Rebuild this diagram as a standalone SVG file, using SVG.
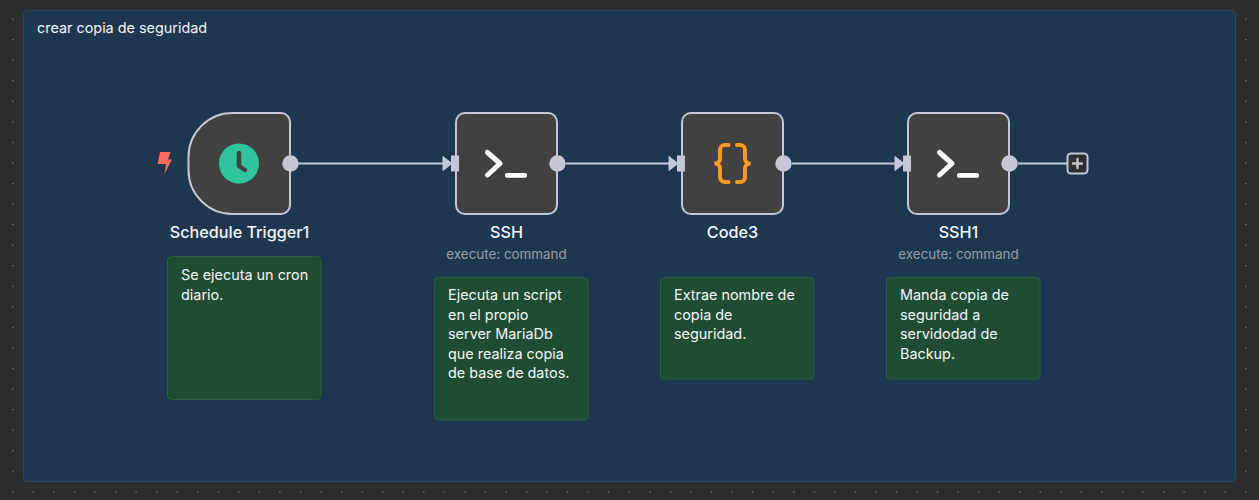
<svg xmlns="http://www.w3.org/2000/svg" width="1259" height="500" viewBox="0 0 1259 500">
<style>
text{font-family:Inter,"Liberation Sans",sans-serif}
.box{fill:#414141;stroke:#c4c8d6;stroke-width:2}
.name{font-size:16.200px;font-weight:500;fill:#f5f5f7;text-anchor:middle}
.sub{font-size:13.400px;fill:#9a9ca6;text-anchor:middle}
.note{fill:#1f4d33;stroke:#25603f;stroke-width:1}
.nt{font-size:14.400px;fill:#f5f5f7}
.line{stroke:#c4c8d6;stroke-width:2;fill:none}
.pt{fill:#c4c8d6}
.ic{fill:none;stroke:#fff;stroke-width:5;stroke-linecap:round;stroke-linejoin:round}
</style>
<defs>
<pattern id="dots" x="2.4" y="8.7" width="20.55" height="20.55" patternUnits="userSpaceOnUse"><rect x="9.8" y="9.8" width="1.2" height="1.2" fill="#8a8a8a"/></pattern>
<g id="inport"><path d="M-8-7L1 0L-8 7Z" class="pt" stroke="#c4c8d6" stroke-width="1" stroke-linejoin="round"/><rect x="0" y="-8" width="8" height="16" class="pt"/></g>
<g id="term"><path class="ic" d="M-18.500-11L-6 0L-18.500 11.500"/><rect x="-1" y="9.500" width="22" height="4.800" rx="2" fill="#fff"/></g>
</defs>
<rect width="1259" height="500" fill="#2d2e2e"/>
<rect width="1259" height="500" fill="url(#dots)"/>
<g id="group-frame">
<rect x="23.500" y="10.500" width="1212" height="471" rx="4" fill="#1e3750" stroke="#25486b"/>
<text x="37" y="33" font-size="14.400" fill="#f5f5f7">crear copia de seguridad</text>
</g>
<g id="schedule-trigger">
<path d="M160 152H170.500L168 159.500H172L164.500 174L166 164H157.500Z" fill="#ff6d5a"/>
<path class="box" d="M232.500 113H281a9 9 0 0 1 9 9V205a9 9 0 0 1-9 9H232.500a44 44 0 0 1-44-44V157a44 44 0 0 1 44-44Z"/>
<circle cx="239" cy="163.500" r="20" fill="#2fc49e"/>
<path d="M239 153V166L245 170" fill="none" stroke="#414141" stroke-width="4.500" stroke-linecap="round" stroke-linejoin="round"/>
<circle class="pt" cx="290.500" cy="163.500" r="8.200"/>
<text class="name" x="239.500" y="237.500">Schedule Trigger1</text>
<rect class="note" x="167.500" y="256.500" width="153.500" height="143" rx="4"/>
<text class="nt" x="181" y="280">Se ejecuta un cron</text>
<text class="nt" x="181" y="299.500">diario.</text>
</g>
<g id="ssh">
<rect class="box" x="456" y="113" width="101" height="101" rx="9"/>
<use href="#term" x="506" y="163.500"/>
<circle class="pt" cx="557.500" cy="163.500" r="8.200"/>
<text class="name" x="506.500" y="237.500">SSH</text>
<text class="sub" x="506.500" y="259">execute: command</text>
<rect class="note" x="434.500" y="277.500" width="153.500" height="142.500" rx="4"/>
<text class="nt" x="448" y="300">Ejecuta un script</text>
<text class="nt" x="448" y="319.500">en el propio</text>
<text class="nt" x="448" y="339">server MariaDb</text>
<text class="nt" x="448" y="358.500">que realiza copia</text>
<text class="nt" x="448" y="378">de base de datos.</text>
</g>
<g id="code3">
<rect class="box" x="682" y="113" width="101" height="101" rx="9"/>
<path d="M728.500 145H725a5 5 0 0 0-5 5V158a5 5 0 0 1-5.500 5.500a5 5 0 0 1 5.500 5.500V177a5 5 0 0 0 5 5H728.500M737 145H740a5 5 0 0 1 5 5V158a5 5 0 0 0 5.500 5.500a5 5 0 0 0-5.500 5.500V177a5 5 0 0 1-5 5H737" fill="none" stroke="#ff9922" stroke-width="4" stroke-linecap="round"/>
<circle class="pt" cx="783.500" cy="163.500" r="8.200"/>
<text class="name" x="732.500" y="237.500">Code3</text>
<rect class="note" x="660.500" y="277.500" width="153.500" height="101.500" rx="4"/>
<text class="nt" x="674" y="300">Extrae nombre de</text>
<text class="nt" x="674" y="319.500">copia de</text>
<text class="nt" x="674" y="339">seguridad.</text>
</g>
<g id="ssh1">
<rect class="box" x="908" y="113" width="101" height="101" rx="9"/>
<use href="#term" x="958" y="163.500"/>
<circle class="pt" cx="1009.500" cy="163.500" r="8.200"/>
<text class="name" x="958.500" y="237.500">SSH1</text>
<text class="sub" x="958.500" y="259">execute: command</text>
<rect class="note" x="886.500" y="277.500" width="153.500" height="101.500" rx="4"/>
<text class="nt" x="900" y="300">Manda copia de</text>
<text class="nt" x="900" y="319.500">seguridad a</text>
<text class="nt" x="900" y="339">servidodad de</text>
<text class="nt" x="900" y="358.500">Backup.</text>
</g>
<g id="add-button">
<rect x="1067.500" y="153.500" width="20" height="20" rx="3.500" fill="#2d2e2e" stroke="#c4c8d6" stroke-width="2"/>
<path d="M1077.500 159V168M1073 163.500H1082" stroke="#c4c8d6" stroke-width="2.400" stroke-linecap="round"/>
</g>
<g id="connectors">
<path class="line" d="M298 163.500H444"/><use href="#inport" x="451" y="163.500"/>
<path class="line" d="M566 163.500H670"/><use href="#inport" x="677" y="163.500"/>
<path class="line" d="M792 163.500H896"/><use href="#inport" x="903" y="163.500"/>
<path class="line" d="M1018 163.500H1067"/>
</g>
</svg>
